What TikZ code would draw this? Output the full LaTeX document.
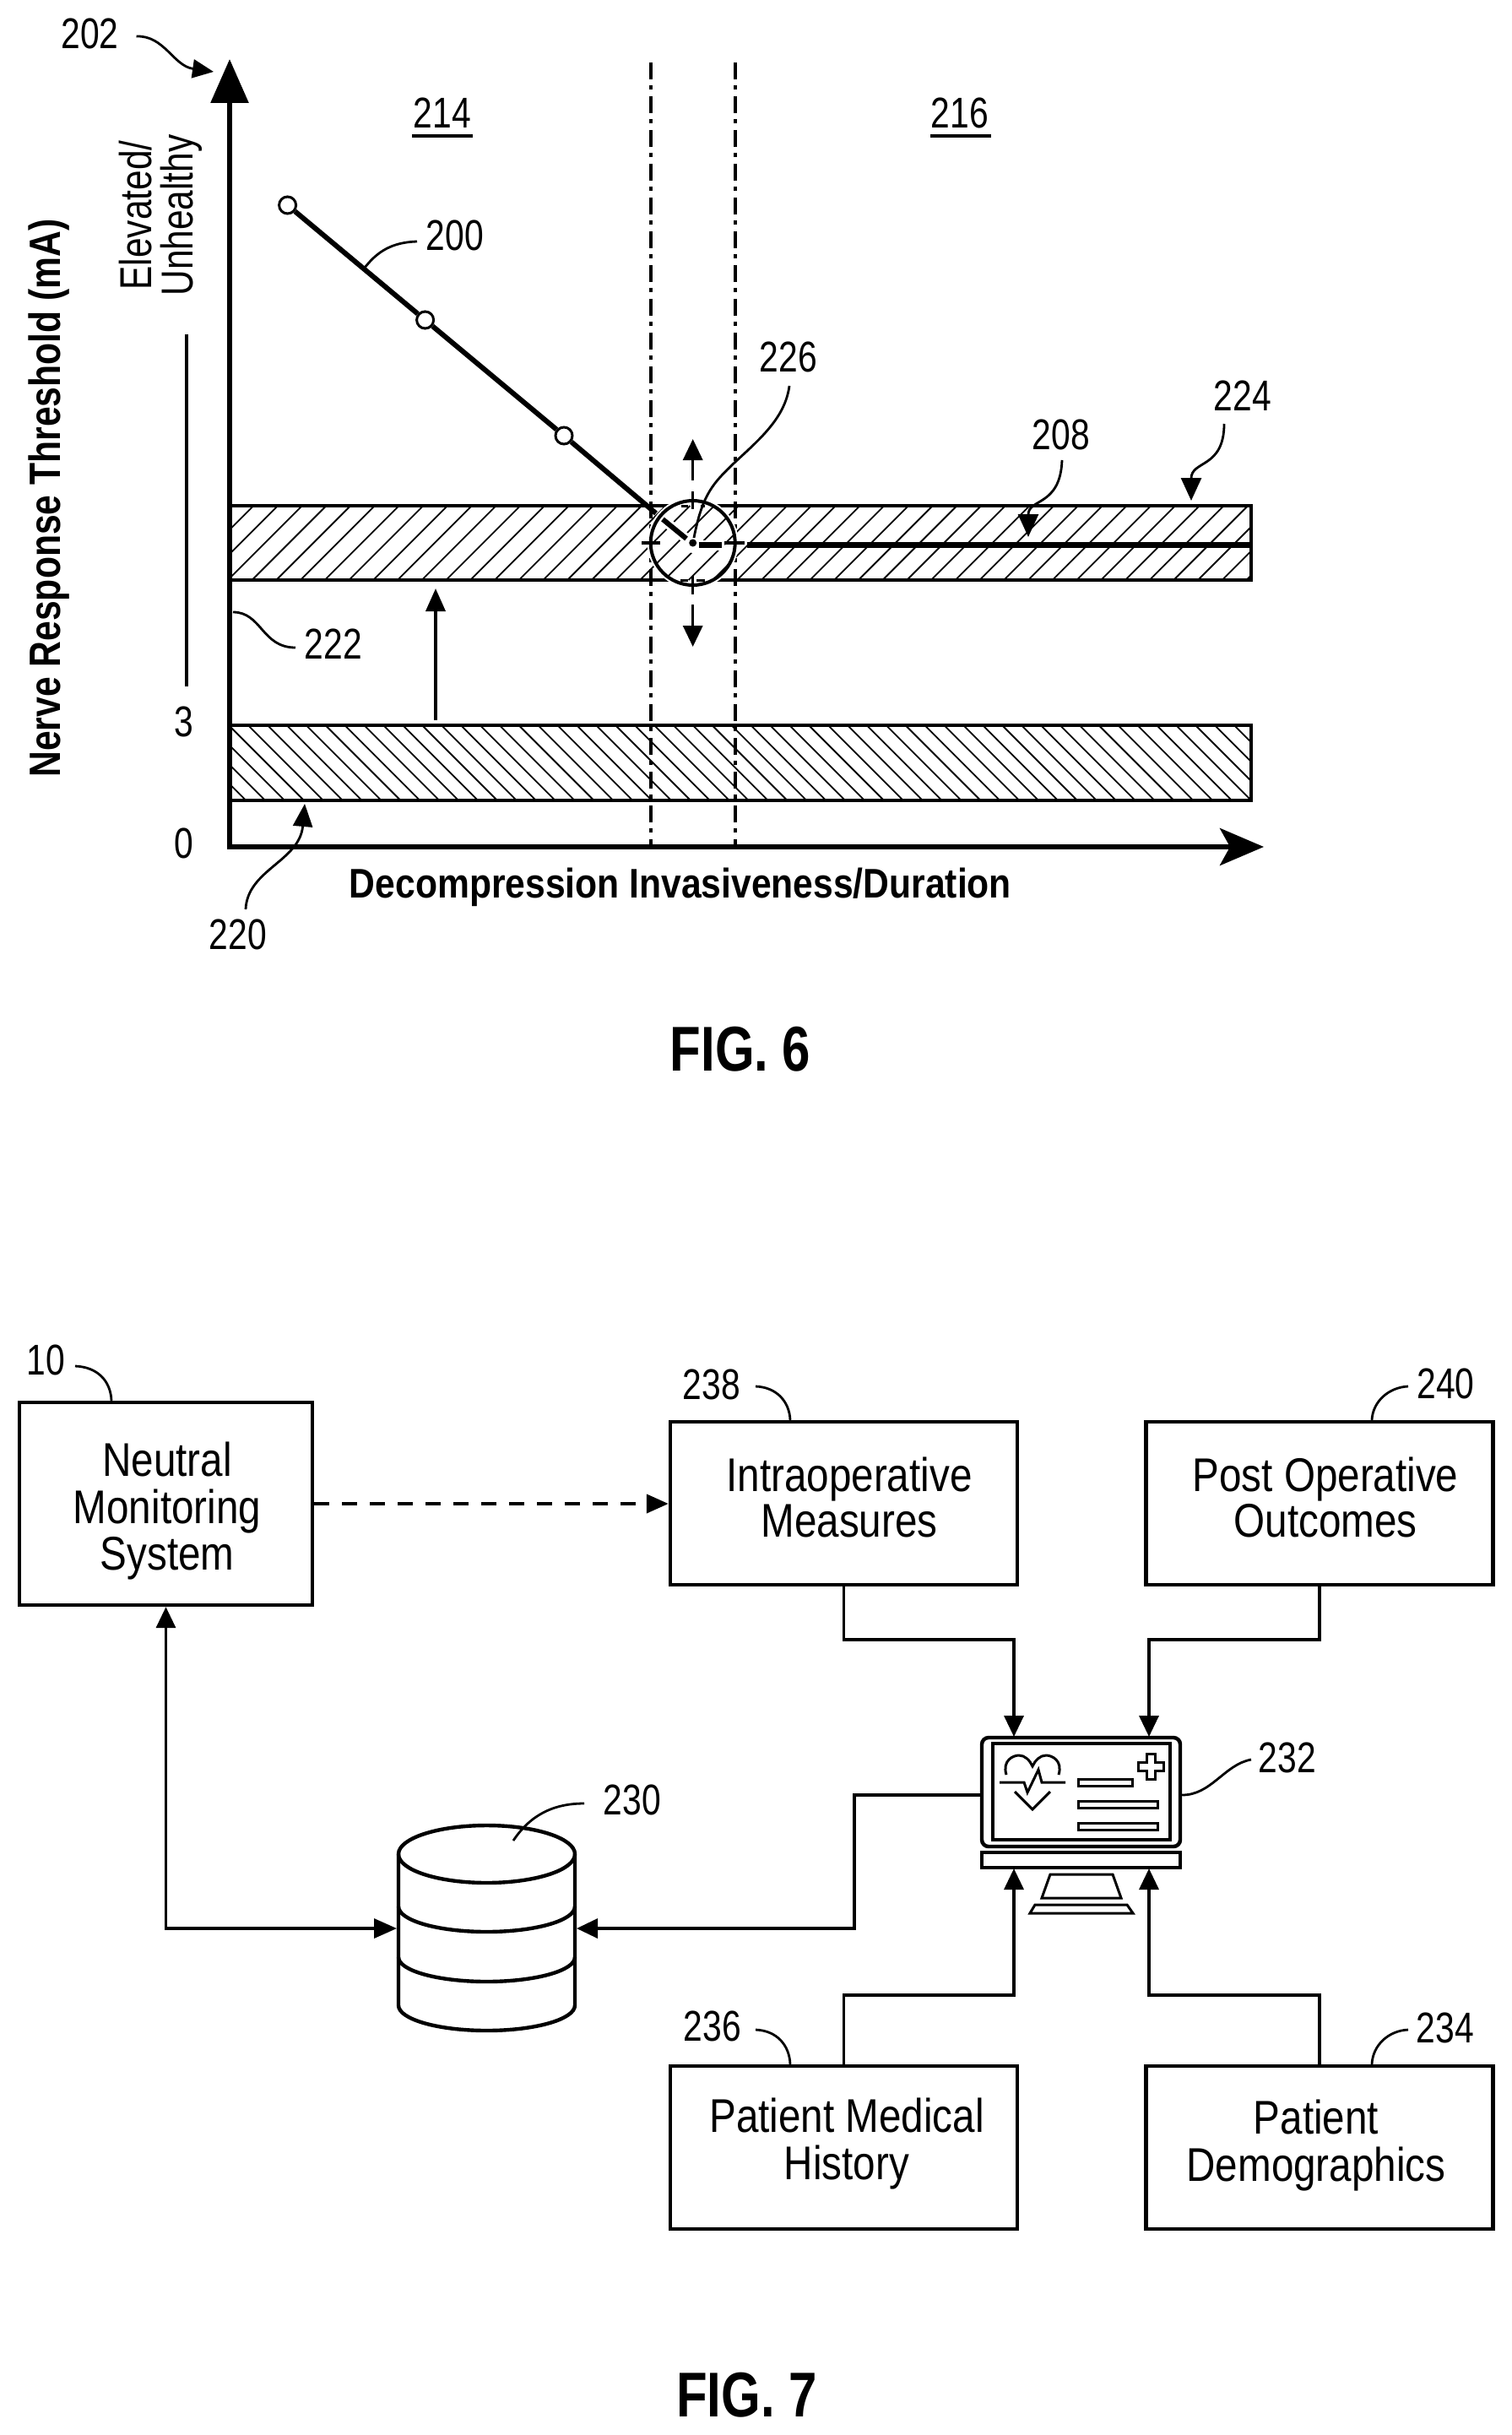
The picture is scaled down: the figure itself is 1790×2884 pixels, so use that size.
\documentclass[tikz,border=0pt]{standalone}
\usepackage{fontspec}
\setmainfont[FakeStretch=0.8]{Liberation Sans}
\newfontfamily\boxfont[FakeStretch=0.85]{Liberation Sans}
\newfontfamily\xlabfont[FakeStretch=0.87]{Liberation Sans}
\newfontfamily\ylabfont[FakeStretch=0.82]{Liberation Sans}
\usetikzlibrary{arrows.meta}
\newcommand\lines[1]{\begin{tabular}[t]{@{}c@{}}#1\end{tabular}}
\tikzset{
  lab/.style={anchor=base,inner sep=0pt,font=\fontsize{25.5}{26}\selectfont},
  txt/.style={anchor=base,inner sep=0pt,font=\boxfont\fontsize{28}{26.25}\selectfont},
  axlab/.style={anchor=base,inner sep=0pt,font=\ylabfont\bfseries\fontsize{26}{28}\selectfont},
  fig/.style={anchor=base,inner sep=0pt,font=\bfseries\fontsize{37.5}{40}\selectfont},
  leader/.style={line width=1.4pt},
  headed/.style={line width=1.7pt,-{Triangle[length=12.5pt,width=11.5pt]}},
  conn/.style={line width=1.7pt,-{Triangle[length=12.5pt,width=11.5pt]}},
  hatch/.style={line width=0.9pt},
  band/.style={line width=2pt},
  boxn/.style={draw,line width=2.2pt,minimum width=205.5pt,minimum height=96.5pt,inner sep=0pt},
  axis/.style={line width=3pt,line join=miter},
  divider/.style={line width=2pt,dash pattern=on 10pt off 3.5pt on 2.5pt off 4pt},
  marker/.style={circle,draw,line width=1.5pt,fill=white,minimum size=10pt,inner sep=0pt},
  icon/.style={line width=1.5pt,line join=miter},
}
\begin{document}
\begin{tikzpicture}[x=0.5pt,y=-0.5pt]
\useasboundingbox[fill=white] (0,0) rectangle (1790,2884);
% --- FIG. 6 bands
\begin{scope}
  \clip (272,599) rectangle (1482,687);
  \foreach \k in {-4,...,42} \draw[hatch] ({298.5+28.73*\k},687) -- ({386.5+28.73*\k},599);
\end{scope}
\draw[band] (272,599) rectangle (1482,687);
\begin{scope}
  \clip (272,859) rectangle (1482,948);
  \foreach \k in {-5,...,55} \draw[hatch] ({360+22.9*\k},948) -- ({271+22.9*\k},859);
\end{scope}
\draw[band] (272,859) rectangle (1482,948);
% dividers
\coordinate (d1t) at (770.7,74); \coordinate (d1b) at (770.7,1003);
\coordinate (d2t) at (870.7,74); \coordinate (d2b) at (870.7,1003);
\draw[divider] (d1t) -- (d1b);
\draw[divider] (d2t) -- (d2b);
% axes
\coordinate (ytip) at (272,70); \coordinate (origin) at (272,1003); \coordinate (xtip) at (1497,1003);
\draw[axis,{Triangle[length=26pt,width=22pt]}-{Stealth[length=26pt,width=22pt,inset=6pt]}] (ytip) -- (origin) -- (xtip);
% threshold curve
\node[marker] (p1) at (340.6,243) {};
\node[marker] (p2) at (503.6,379) {};
\node[marker] (p3) at (668,516) {};
\coordinate (dend) at (777,608);
\draw[line width=3pt] (p1) -- (p2);
\draw[line width=3pt] (p2) -- (p3);
\draw[line width=3pt] (p3) -- (dend);
% magnified circle
\coordinate (cc) at (820.7,643);
\fill[white] (cc) circle[radius=54];
\begin{scope}
  \clip (cc) circle[radius=50];
  \foreach \k in {12,...,20} \draw[hatch] ({298.5+28.73*\k},687) -- ({386.5+28.73*\k},599);
\end{scope}
\fill[white] (cc) circle[radius=12];
\draw[white,line width=6pt] (785,615) -- (813,638);
\draw[white,line width=6pt] (826,645.5) -- (858,645.5);
\draw[line width=1.5pt] (807,599) -- (815,599) (830,599) -- (835,599);
\draw[line width=1.5pt] (806,687) -- (815,687) (825,687) -- (835,687);
\draw[line width=2pt] (cc) circle[radius=50];
\draw[line width=3pt] (785,615) -- (813,638);
\fill (cc) circle[radius=4.5];
\draw[line width=3.4pt] (828,645.5) -- (855,645.5);
\draw[line width=3.4pt] (885,645.5) -- (1482,645.5);
\draw[line width=1.6pt] (760,643) -- (782,643) (858,643) -- (882,643);
\draw[line width=1.6pt] (820.7,582) -- (820.7,603) (820.7,682) -- (820.7,704);
\coordinate (ua) at (820.7,569); \coordinate (ub) at (820.7,520);
\coordinate (da) at (820.7,716); \coordinate (db) at (820.7,766);
\draw[headed] (ua) -- (ub);
\draw[headed] (da) -- (db);
% shift arrow
\coordinate (sa) at (516,853); \coordinate (sb) at (516,697);
\draw[line width=1.8pt,-{Triangle[length=13.5pt,width=11.5pt]}] (sa) -- (sb);
% y axis rule
\coordinate (ra) at (221,396); \coordinate (rb) at (221,813);
\draw[line width=2pt] (ra) -- (rb);
% FIG. 6 labels
\node[lab] (l202) at (106.5,58) {202};
\node[lab] (l214) at (524,152) {214};
\node[lab] (l216) at (1137,152) {216};
\draw[line width=1.6pt] (488,161) -- (560,161);
\draw[line width=1.6pt] (1102,161) -- (1174,161);
\node[lab] (l200) at (539,297) {200};
\node[lab] (l226) at (934,440) {226};
\node[lab] (l208) at (1257,532) {208};
\node[lab] (l224) at (1472,486) {224};
\node[lab] (l222) at (395,780) {222};
\node[lab] (l3) at (218,872) {3};
\node[lab] (l0) at (218,1016) {0};
\node[lab] (l220) at (282,1124) {220};
\node[lab,rotate=90,font=\fontsize{26.5}{28}\selectfont] (elev) at (179,255) {Elevated/};
\node[lab,rotate=90,font=\fontsize{26.5}{28}\selectfont] (unh) at (228,255) {Unhealthy};
\node[axlab,rotate=90] (ylab) at (71,590) {Nerve Response Threshold (mA)};
\node[axlab,font=\xlabfont\bfseries\fontsize{24.5}{28}\selectfont] (xlab) at (806,1063) {Decompression Invasiveness/Duration};
\node[fig] (fig6) at (877,1268) {FIG. 6};
% FIG. 6 leaders
\coordinate (a202) at (161.5,43); \coordinate (b202) at (253,85);
\draw[leader,-{Triangle[length=12.5pt,width=11pt]}] (a202) .. controls (195,42) and (205,78) .. (b202);
\coordinate (a200) at (494,286); \coordinate (b200) at (430.5,319);
\draw[leader] (a200) .. controls (465,287) and (447,297) .. (b200);
\coordinate (a226) at (935,457); \coordinate (b226) at (822,637);
\draw[leader] (a226) .. controls (930,495) and (900,520) .. (870,548) .. controls (845,572) and (832,585) .. (b226);
\coordinate (a222) at (276,725); \coordinate (b222) at (350,767);
\draw[leader] (a222) .. controls (310,725) and (310,767) .. (b222);
\coordinate (a220) at (291,1077); \coordinate (b220) at (361,952);
\draw[leader,-{Triangle[length=13.5pt,width=11.5pt]}] (a220) .. controls (293,1030) and (355,1020) .. (b220);
\coordinate (a224) at (1450,502); \coordinate (b224) at (1411,593);
\draw[leader,-{Triangle[length=13.5pt,width=12pt]}] (a224) .. controls (1450,555) and (1411,545) .. (b224);
\coordinate (a208) at (1258,545); \coordinate (b208) at (1218,636);
\draw[leader,-{Triangle[length=13.5pt,width=12pt]}] (a208) .. controls (1256,600) and (1218,590) .. (b208);
% --- FIG. 7 boxes
\node[boxn,minimum width=173.5pt,minimum height=120pt] (n10) at (196.5,1781) {};
\node[boxn] (n238) at (999.5,1780.5) {};
\node[boxn] (n240) at (1563,1780.5) {};
\node[boxn] (n236) at (999.5,2543.5) {};
\node[boxn] (n234) at (1563,2543.5) {};
\node[txt] (t10) at (198,1748) {\lines{Neutral\\Monitoring\\System}};
\node[txt] (t238) at (1006,1766) {\lines{Intraoperative\\Measures}};
\node[txt] (t240) at (1570,1766) {\lines{Post Operative\\Outcomes}};
\node[txt] (t236) at (1003,2525) {\lines{Patient Medical\\History}};
\node[txt] (t234) at (1559,2527) {\lines{Patient\\Demographics}};
\node[lab] (l10) at (54.5,1628) {10};
\node[lab] (l238) at (843,1657) {238};
\node[lab] (l240) at (1712.5,1656) {240};
\node[lab] (l236) at (844,2417) {236};
\node[lab] (l234) at (1712,2419) {234};
\node[lab] (l230) at (749,2149) {230};
\node[lab] (l232) at (1525,2099) {232};
\node[fig] (fig7) at (884.5,2862) {FIG. 7};
% box leaders
\coordinate (a10) at (89,1618); \coordinate (a238) at (895,1642); \coordinate (a240) at (1668,1642);
\coordinate (a236) at (895,2404); \coordinate (a234) at (1668,2404);
\draw[leader] (a10) .. controls (115,1619) and (131,1635) .. (n10.north -| 132,0);
\draw[leader] (a238) .. controls (920,1643) and (935,1660) .. (n238.north -| 936,0);
\draw[leader] (a240) .. controls (1645,1643) and (1626,1660) .. (n240.north -| 1625,0);
\draw[leader] (a236) .. controls (920,2405) and (935,2422) .. (n236.north -| 936,0);
\draw[leader] (a234) .. controls (1645,2405) and (1626,2422) .. (n234.north -| 1625,0);
% monitor
\node[draw,line width=2.2pt,rounded corners=4pt,minimum width=117.5pt,minimum height=64.5pt,inner sep=0pt] (mon) at (1280.5,2122.5) {};
\node[draw,line width=2.2pt,minimum width=105pt,minimum height=57pt,inner sep=0pt] (scr) at (1281,2122) {};
\node[draw,line width=2.2pt,minimum width=117.5pt,minimum height=9pt,inner sep=0pt] (bar) at (1280.5,2203) {};
\draw[icon] (1244,2220) -- (1318,2220) -- (1328,2248) -- (1234,2248) -- cycle;
\draw[icon] (1226,2256) -- (1335,2256) -- (1342,2266) -- (1220,2266) -- cycle;
\draw[icon] (1192,2102) .. controls (1187,2085) and (1200,2079) .. (1207,2079) .. controls (1214,2079) and (1220,2085) .. (1223,2092)
            .. controls (1226,2085) and (1232,2079) .. (1239,2079) .. controls (1246,2079) and (1259,2085) .. (1254,2102);
\draw[icon] (1184,2111) -- (1213,2111) -- (1217,2123) -- (1230,2096) -- (1234,2111) -- (1262,2111);
\draw[icon] (1202,2122) -- (1223,2143) -- (1244,2122);
\draw[icon] (1277,2107) rectangle (1341,2115);
\draw[icon] (1277,2133) rectangle (1371,2141);
\draw[icon] (1277,2159) rectangle (1371,2167);
\draw[icon] (1358,2077) -- (1368,2077) -- (1368,2087) -- (1378,2087) -- (1378,2097) -- (1368,2097) -- (1368,2107) -- (1358,2107) -- (1358,2097) -- (1348,2097) -- (1348,2087) -- (1358,2087) -- cycle;
\coordinate (a232) at (1482,2084);
\draw[leader] (a232) .. controls (1450,2090) and (1435,2126) .. (mon.east |- 0,2126);
% database
\coordinate (dbc) at (576.5,2196);
\draw[line width=2.2pt] (dbc) ellipse[x radius=104.5,y radius=34];
\draw[line width=2.2pt] (472,2196) -- (472,2375) arc[start angle=180,end angle=0,x radius=104.5,y radius=30] -- (681,2196);
\draw[line width=2.2pt] (472,2258) arc[start angle=180,end angle=0,x radius=104.5,y radius=30];
\draw[line width=2.2pt] (472,2318) arc[start angle=180,end angle=0,x radius=104.5,y radius=29];
\coordinate (a230) at (692,2136); \coordinate (b230) at (608,2180);
\draw[leader] (a230) .. controls (655,2136) and (628,2150) .. (b230);
% connectors
\coordinate (dbL) at (470,2284); \coordinate (dbR) at (683,2284);
\coordinate (m1) at (1201,2057); \coordinate (m2) at (1361,2057);
\coordinate (m3) at (1201,2213); \coordinate (m4) at (1361,2213);
\coordinate (e1) at (1201,1942); \coordinate (e2) at (1361,1942);
\coordinate (e3) at (1201,2363); \coordinate (e4) at (1361,2363);
\coordinate (monL) at (1012,2126);
\draw[conn] (n238.south) |- (e1) -- (m1);
\draw[conn] (n240.south) |- (e2) -- (m2);
\draw[conn] (n236.north) |- (e3) -- (m3);
\draw[conn] (n234.north) |- (e4) -- (m4);
\draw[conn] (mon.west |- monL) -- (monL) |- (dbR);
\draw[line width=1.7pt,{Triangle[length=12.5pt,width=11.5pt]}-{Triangle[length=13.5pt,width=11.5pt]}] (n10.south) |- (dbL);
\draw[line width=2pt,dash pattern=on 9pt off 7.5pt,-{Triangle[length=13pt,width=11pt]}] (n10.east) -- (n238.west |- n10.east);
\end{tikzpicture}
\end{document}
